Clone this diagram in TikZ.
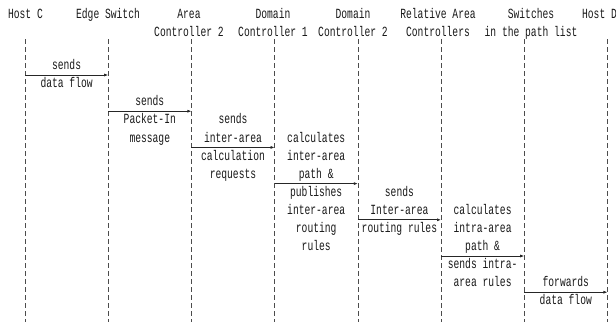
\documentclass[tikz,border=0pt]{standalone}
\usepackage{fontspec}
\usetikzlibrary{arrows.meta}
\newfontfamily\seqfont[FakeStretch=0.69]{Liberation Mono}
% every text line gets the same 18.1pt box so blocks stack evenly
\newcommand\lstrut{\rule[-5.4pt]{0pt}{18.1pt}}
\begin{document}
\begin{tikzpicture}[x=1pt,y=-1pt,
  txt/.style={font=\fontsize{14}{18.1}\selectfont\seqfont, align=center,
              inner sep=0pt, text=black!90},
  head/.style={txt, anchor=north},
  life/.style={draw=black!70, line width=0.6pt, dash pattern=on 5pt off 3pt},
  msg/.style={draw=black!85, line width=0.7pt, -{Latex[length=4pt,width=3pt]}}]
\useasboundingbox (0,0) rectangle (616,322);
\fill[white] (0,0) rectangle (616,322);

% participants
\node[head] (hc)  at (25.5,5.5)  {\lstrut Host C};
\node[head] (es)  at (108,5.5)   {\lstrut Edge Switch};
\node[head] (ac2) at (189,5.5)   {\lstrut Area\\\lstrut Controller 2};
\node[head] (dc1) at (273,5.5)   {\lstrut Domain\\\lstrut Controller 1};
\node[head] (dc2) at (353,5.5)   {\lstrut Domain\\\lstrut Controller 2};
\node[head] (rac) at (438,5.5)   {\lstrut Relative Area\\\lstrut Controllers};
\node[head] (sw)  at (531,5.5)   {\lstrut Switches\\\lstrut in the path list};
\node[head] (hd)  at (599.5,5.5) {\lstrut Host D};

% lifelines
\foreach \i/\x in {0/25,1/108.2,2/191.4,3/274.6,4/357.8,5/441,6/524.2,7/607.4}{
  \coordinate (T\i) at (\x,39);
  \coordinate (B\i) at (\x,322);
  \draw[life] (T\i) -- (B\i);
}

% message levels
\coordinate (y1) at (0,75.0);
\coordinate (y2) at (0,111.2);
\coordinate (y3) at (0,147.4);
\coordinate (y4) at (0,183.6);
\coordinate (y5) at (0,219.8);
\coordinate (y6) at (0,256.0);
\coordinate (y7) at (0,292.2);

% messages
\draw[msg] (T0 |- y1) -- (T1 |- y1);
\draw[msg] (T1 |- y2) -- (T2 |- y2);
\draw[msg] (T2 |- y3) -- (T3 |- y3);
\draw[msg] (T3 |- y4) -- (T4 |- y4);
\draw[msg] (T4 |- y5) -- (T5 |- y5);
\draw[msg] (T5 |- y6) -- (T6 |- y6);
\draw[msg] (T6 |- y7) -- (T7 |- y7);

% message texts
\node[txt] (m1) at (66.6,75.0)  {\lstrut sends\\\lstrut data flow};
\node[txt] (m2) at (149.8,120.3) {\lstrut sends\\\lstrut Packet-In\\\lstrut message};
\node[txt] (m3) at (233,147.45) {\lstrut sends\\\lstrut inter-area\\\lstrut calculation\\\lstrut requests};
\node[txt] (m4) at (316.2,192.7) {\lstrut calculates\\\lstrut inter-area\\\lstrut path \&\\\lstrut publishes\\\lstrut inter-area\\\lstrut routing\\\lstrut rules};
\node[txt] (m5) at (399.4,210.8) {\lstrut sends\\\lstrut Inter-area\\\lstrut routing rules};
\node[txt] (m6) at (482.6,247.0) {\lstrut calculates\\\lstrut intra-area\\\lstrut path \&\\\lstrut sends intra-\\\lstrut area rules};
\node[txt] (m7) at (565.8,292.2) {\lstrut forwards\\\lstrut data flow};
\end{tikzpicture}
\end{document}
